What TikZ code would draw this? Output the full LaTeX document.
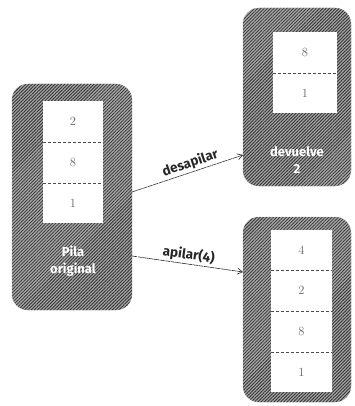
\documentclass[tikz,border=0pt]{standalone}
\usepackage{fontspec}
\setsansfont{Fira Sans}
\usetikzlibrary{arrows.meta,patterns.meta}
\begin{document}
\begin{tikzpicture}[x=1pt,y=-1pt,
  stackbox/.style={draw=gray!70,line width=0.4pt,fill=gray!70,rounded corners=16pt,
     postaction={pattern={Lines[angle=45,distance=2.3pt,line width=0.8pt]},pattern color=black!80}},
  cell/.style={fill=white},
  divider/.style={densely dashed,line width=0.6pt,black!70},
  num/.style={font=\fontsize{12.5}{12.5}\selectfont,text=black!60},
  wlabel/.style={font=\sffamily\bfseries\fontsize{13}{17}\selectfont,text=white,align=center},
  arr/.style={line width=0.6pt,black!85,dash pattern=on 5pt off 0.6pt,-{Straight Barb[length=5pt,width=6pt]}},
  alabel/.style={font=\sffamily\bfseries\fontsize{13.5}{13.5}\selectfont,text=black!85}]
\useasboundingbox (0,0) rectangle (355,406);
% left box
\path[stackbox] (12,84) rectangle (132,310);
\node[cell,minimum width=60pt,minimum height=122pt,inner sep=0pt] (Lcells) at (73,162) {};
\draw[divider] (43,142) -- (103,142);
\draw[divider] (43,183) -- (103,183);
\node[num] (L1) at (73,121.5) {2};
\node[num] (L2) at (73,162.5) {8};
\node[num] (L3) at (73,203) {1};
\node[wlabel] (Lt) at (73,261) {Pila\\original};
% top right box
\path[stackbox] (243,8) rectangle (351,186);
\node[cell,minimum width=64pt,minimum height=81pt,inner sep=0pt] (Tcells) at (305,72.5) {};
\draw[divider] (273,73) -- (337,73);
\node[num] (T1) at (305,52.5) {8};
\node[num] (T2) at (305,93) {1};
\node[wlabel] (Tt) at (297,160) {devuelve\\2};
% bottom right box
\path[stackbox] (243,217) rectangle (351,402);
\node[cell,minimum width=61pt,minimum height=162pt,inner sep=0pt] (Bcells) at (301.5,311) {};
\draw[divider] (271,270) -- (332,270);
\draw[divider] (271,311) -- (332,311);
\draw[divider] (271,352) -- (332,352);
\node[num] (B1) at (301.5,250) {4};
\node[num] (B2) at (301.5,290.5) {2};
\node[num] (B3) at (301.5,331.5) {8};
\node[num] (B4) at (301.5,372) {1};
% arrows
\coordinate (a1s) at (132,192);
\coordinate (a1e) at (243,155);
\coordinate (a2s) at (132,256);
\coordinate (a2e) at (243,272);
\draw[arr] (a1s) -- node[alabel,sloped,above,pos=0.55,inner sep=1.5pt] (d1) {desapilar} (a1e);
\draw[arr] (a2s) -- node[alabel,sloped,above,pos=0.5,inner sep=1.5pt] (d2) {apilar(4)} (a2e);
\end{tikzpicture}
\end{document}
